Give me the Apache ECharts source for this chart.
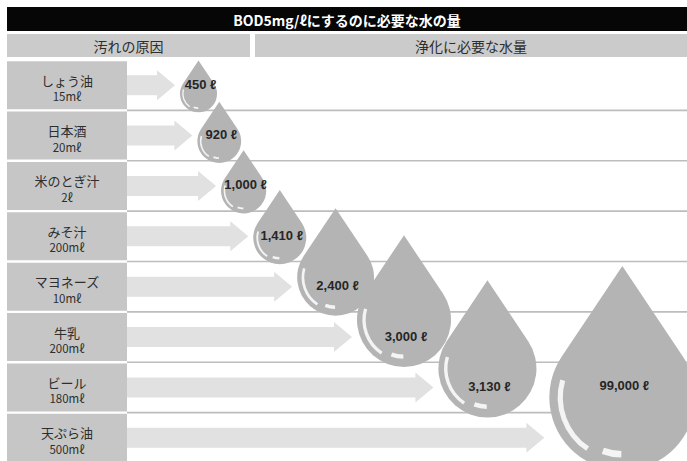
<!DOCTYPE html>
<html><head><meta charset="utf-8">
<script src="https://cdn.jsdelivr.net/npm/echarts@6/dist/echarts.min.js"></script>
<style>html,body{margin:0;padding:0;background:#fff}#c{width:687px;height:461px}</style>
</head><body><div id="c"></div>
<script>
// ---- data ----
const titleText = 'BOD5mg/ℓにするのに必要な水の量';
const headerLeft = '汚れの原因';
const headerRight = '浄化に必要な水量';
const causes = ['しょう油', '日本酒', '米のとぎ汁', 'みそ汁', 'マヨネーズ', '牛乳', 'ビール', '天ぷら油'];
const amounts = ['15mℓ', '20mℓ', '2ℓ', '200mℓ', '10mℓ', '200mℓ', '180mℓ', '500mℓ'];
const water = [450, 920, 1000, 1410, 2400, 3000, 3130, 99000];

// ---- layout rules ----
const JP = '"Noto Sans CJK JP", "Noto Sans", sans-serif';
const NUM = '"Liberation Sans", "DejaVu Sans", sans-serif';
const D = Math.PI / 180;
function dropWidth(v) { return Math.min(146, 33.5 + 3.685e-4 * Math.pow(v, 1.5)); }
function reach(i) { return 48 * Math.pow(1.362, i); }

const rows = water.map((v, i) => [v, i]);
const chart = echarts.init(document.getElementById('c'), null, { renderer: 'svg' });

chart.setOption({
  animation: false,
  backgroundColor: '#fff',
  grid: { left: 127, top: 60, width: 560, height: 403, containLabel: false, outerBoundsMode: 'none' },
  xAxis: { type: 'value', min: 0, max: 560, show: false },
  yAxis: {
    type: 'category', inverse: true, data: causes,
    axisLine: { show: false }, axisTick: { show: false }, splitLine: { show: false },
    axisLabel: {
      interval: 0, margin: 60, align: 'center', verticalAlign: 'middle',
      formatter: (val, idx) => '{n|' + val + '}\n{a|' + amounts[idx] + '}',
      backgroundColor: '#c6c6c6', width: 120, height: 32, padding: [11, 0, 5, 0],
      rich: {
        n: { fontSize: 13, lineHeight: 16, color: '#2e2e2e', fontFamily: JP, align: 'center' },
        a: { fontSize: 11.5, lineHeight: 16, color: '#2e2e2e', fontFamily: JP, align: 'center' }
      }
    }
  },
  graphic: [
    { type: 'rect', shape: { x: 7, y: 7, width: 680, height: 24 }, style: { fill: '#060606' } },
    { type: 'text', x: 347, y: 19.5, style: { text: titleText, fill: '#fff', fontSize: 14, fontWeight: 'bold', fontFamily: JP, align: 'center', verticalAlign: 'middle' } },
    { type: 'rect', shape: { x: 7, y: 34, width: 243, height: 23 }, style: { fill: '#cbcbcb' } },
    { type: 'rect', shape: { x: 255, y: 34, width: 432, height: 23 }, style: { fill: '#cbcbcb' } },
    { type: 'text', x: 128.5, y: 45.5, style: { text: headerLeft, fill: '#2e2e2e', fontSize: 14, fontFamily: JP, align: 'center', verticalAlign: 'middle' } },
    { type: 'text', x: 471, y: 45.5, style: { text: headerRight, fill: '#2e2e2e', fontSize: 14, fontFamily: JP, align: 'center', verticalAlign: 'middle' } }
  ],
  series: [
    {
      type: 'custom', z: 1, data: rows, encode: { x: -1, y: 1 },
      renderItem: function (params, api) {
        const i = api.value(1);
        const c = api.coord([0, i]);
        const rowH = api.size([0, 1])[1];
        const x0 = c[0], cy = c[1];
        const tipX = api.coord([reach(i), i])[0];
        const right = api.coord([560, i])[0];
        const children = [];
        if (i < causes.length - 1) {
          const ly = cy + rowH / 2;
          children.push({ type: 'line', shape: { x1: x0, y1: ly, x2: right, y2: ly }, style: { stroke: '#bdbdbd', lineWidth: 1.6 } });
        }
        const hx = tipX - 18;
        children.push({
          type: 'polygon',
          shape: { points: [[x0, cy - 10], [hx, cy - 10], [hx, cy - 15], [tipX, cy], [hx, cy + 15], [hx, cy + 10], [x0, cy + 10]] },
          style: { fill: '#e1e1e1' }
        });
        return { type: 'group', children: children };
      }
    },
    {
      type: 'custom', z: 3, data: rows, encode: { x: -1, y: 1 },
      renderItem: function (params, api) {
        const v = api.value(0), i = api.value(1);
        const c = api.coord([0, i]);
        const rowH = api.size([0, 1])[1];
        const cy = c[1];
        const w = dropWidth(v), r = w / 2;
        const tipX = api.coord([reach(i), i])[0];
        const cx = tipX + 5 + r;
        const bottom = cy + rowH / 2 + 0.05 * w;
        const ccy = bottom - r;
        const k = 1.8 * r, tx = 0.8315 * r, ty = 0.5556 * r;
        const d = 'M' + cx + ' ' + (ccy - k) + ' L' + (cx + tx) + ' ' + (ccy - ty) +
          ' A' + r + ' ' + r + ' 0 1 1 ' + (cx - tx) + ' ' + (ccy - ty) + ' Z';
        const labelY = Math.min(cy - 1, api.getHeight() - 0.52 * w);
        return {
          type: 'group',
          children: [
            { type: 'path', shape: { pathData: d }, style: { fill: '#b4b4b4' } },
            { type: 'arc', shape: { cx: cx, cy: ccy, r: 0.85 * r, startAngle: 124 * D, endAngle: 196 * D, clockwise: true },
              style: { stroke: '#f4f4f4', fill: 'none', lineWidth: Math.max(1.4, 0.07 * r) } },
            { type: 'arc', shape: { cx: cx, cy: ccy, r: 0.78 * r, startAngle: 91 * D, endAngle: 110 * D, clockwise: true },
              style: { stroke: '#f4f4f4', fill: 'none', lineWidth: Math.max(1.6, 0.09 * r) } },
            { type: 'text', style: { text: v.toLocaleString('en-US') + ' ℓ', x: cx + 2, y: labelY, align: 'center', verticalAlign: 'middle',
              fill: '#262626', fontSize: 13, fontWeight: 'bold', fontFamily: NUM } }
          ]
        };
      }
    }
  ]
});
</script>
</body></html>
